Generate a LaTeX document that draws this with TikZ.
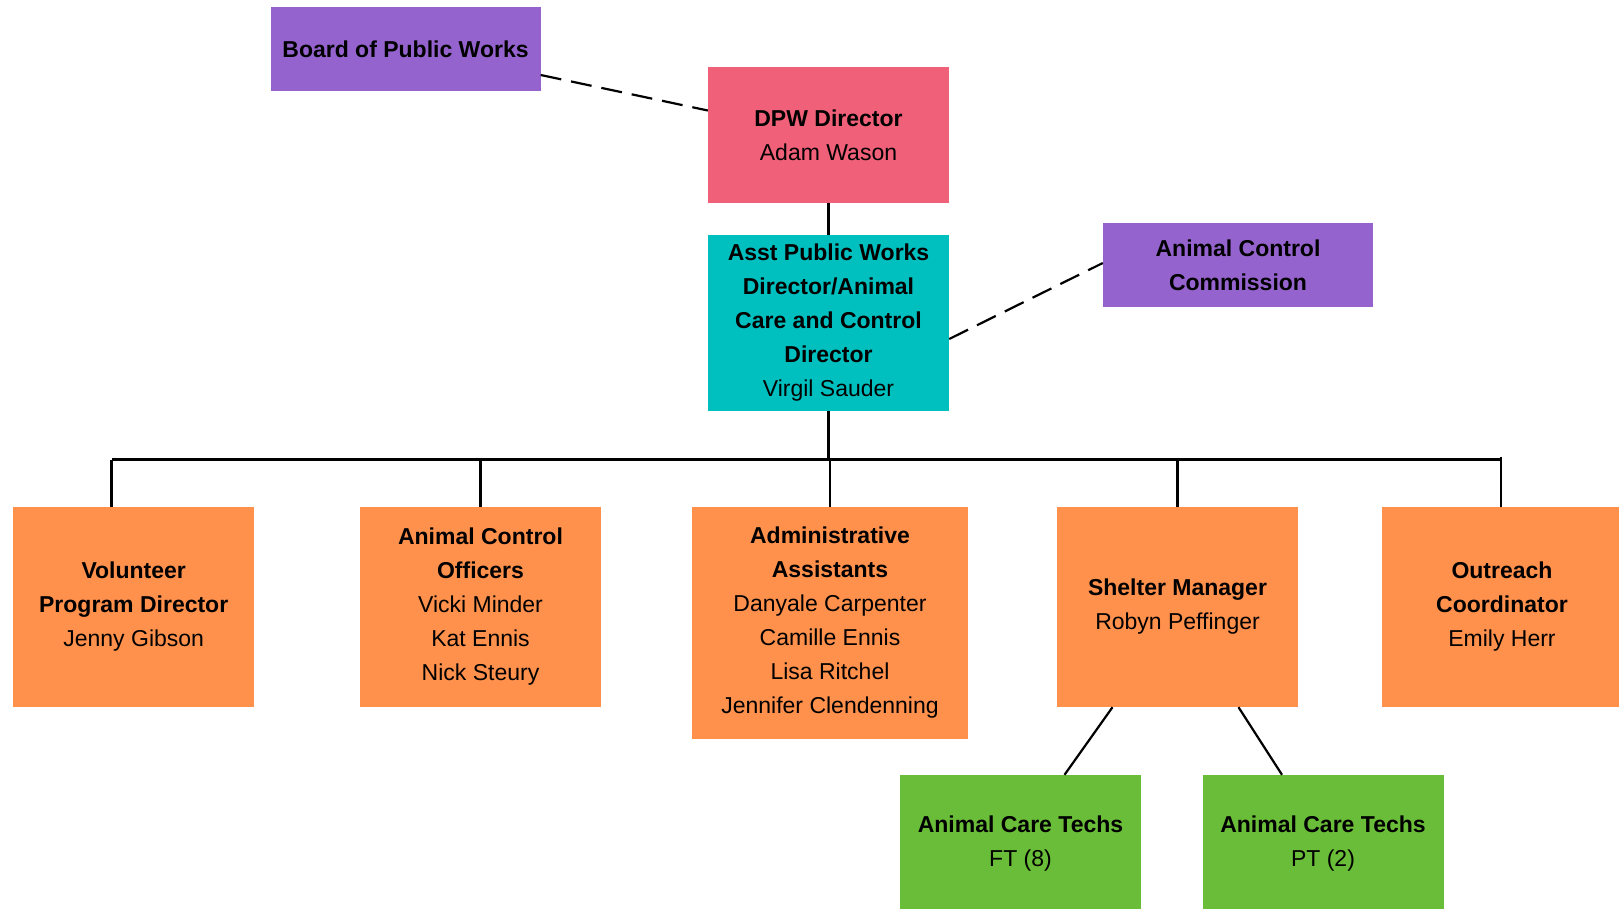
\documentclass[tikz,border=0pt]{standalone}
\usepackage{fontspec}
\setmainfont{Liberation Sans}
\usepackage{tikz}
\definecolor{boardPurple}{RGB}{149,99,205}
\definecolor{dpwPink}{RGB}{240,96,120}
\definecolor{asstTeal}{RGB}{0,191,191}
\definecolor{staffOrange}{RGB}{255,145,77}
\definecolor{techGreen}{RGB}{106,189,56}
\tikzstyle{orgBox}=[rectangle,minimum width=241pt,minimum height=200pt,inner sep=0pt,align=center,font=\fontsize{23}{34}\selectfont]
\tikzstyle{solidLink}=[line width=2.2pt]
\tikzstyle{dashedLink}=[line width=2.2pt,dash pattern=on 21pt off 10pt]

\begin{document}
\begin{tikzpicture}[x=1pt,y=-1pt]

    \useasboundingbox (0,0) rectangle (1619,909);

    \node[orgBox,fill=boardPurple,minimum width=270pt,minimum height=84pt] (board) at (405.5, 49) {\textbf{Board of Public Works}};
    \node[orgBox,fill=dpwPink,minimum height=136pt] (dpw) at (828.5, 135) {\textbf{DPW Director}\\Adam Wason};
    \node[orgBox,fill=asstTeal,minimum height=176pt] (asst) at (828.5, 323) {\textbf{Asst Public Works}\\\textbf{Director/Animal}\\\textbf{Care and Control}\\\textbf{Director}\\Virgil Sauder};
    \node[orgBox,fill=boardPurple,minimum width=270pt,minimum height=84pt] (acc) at (1238, 265) {\textbf{Animal Control}\\\textbf{Commission}};

    \node[orgBox,fill=staffOrange] (vol) at (133.7, 607) {\textbf{Volunteer}\\\textbf{Program Director}\\Jenny Gibson};
    \node[orgBox,fill=staffOrange] (aco) at (480.5, 607) {\textbf{Animal Control}\\\textbf{Officers}\\Vicki Minder\\Kat Ennis\\Nick Steury};
    \node[orgBox,fill=staffOrange,minimum width=276pt,minimum height=232pt] (admin) at (830, 623) {\textbf{Administrative}\\\textbf{Assistants}\\Danyale Carpenter\\Camille Ennis\\Lisa Ritchel\\Jennifer Clendenning};
    \node[orgBox,fill=staffOrange] (shelter) at (1177.5, 607) {\textbf{Shelter Manager}\\Robyn Peffinger};
    \node[orgBox,fill=staffOrange] (outreach) at (1502, 607) {\textbf{Outreach}\\\textbf{Coordinator}\\Emily Herr};

    \node[orgBox,fill=techGreen,minimum height=138pt] (ft) at (1020.5, 844) {\textbf{Animal Care Techs}\\FT (8)};
    \node[orgBox,fill=techGreen,minimum height=138pt] (pt) at (1323, 844) {\textbf{Animal Care Techs}\\PT (2)};

    \coordinate (busL) at (111.5, 459.5);
    \coordinate (busR) at (1501, 459.5);

    \draw[dashedLink] ([yshift=-26pt]board.east) to ([yshift=24.5pt]dpw.west);
    \draw[dashedLink] ([yshift=-16pt]asst.east) to ([yshift=2pt]acc.west);
    \draw[solidLink] (dpw.south) to (asst.north);
    \draw[solidLink] (asst.south) to (asst.south |- busL);
    \draw[solidLink] (busL) to (busR);
    \draw[solidLink] (busL) to (busL |- vol.north);
    \draw[solidLink] (aco.north |- busL) to (aco.north);
    \draw[solidLink] (admin.north |- busL) to (admin.north);
    \draw[solidLink] (shelter.north |- busL) to (shelter.north);
    \draw[solidLink] ([yshift=3pt]busR) to (busR |- outreach.north);
    \draw[solidLink] ([xshift=-65pt]shelter.south) to ([xshift=44pt]ft.north);
    \draw[solidLink] ([xshift=61pt]shelter.south) to ([xshift=-41pt]pt.north);

\end{tikzpicture}
\end{document}
